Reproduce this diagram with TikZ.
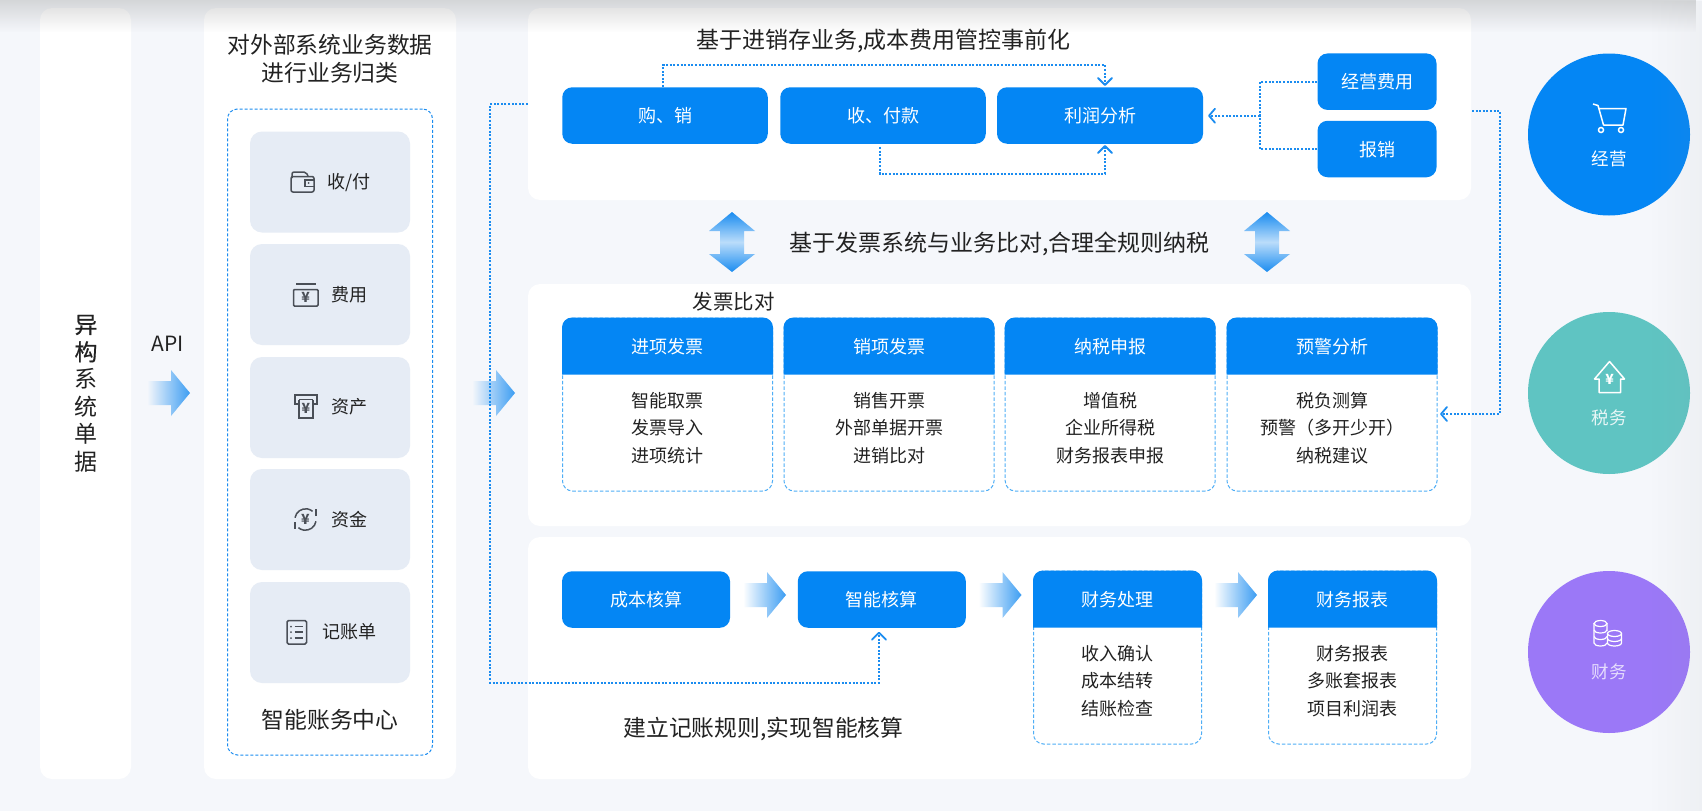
\documentclass[tikz,border=0pt]{standalone}
\usepackage{fontspec}
\usepackage{tikz}
\usetikzlibrary{positioning,arrows.meta,fadings,calc}
\setmainfont{Noto Sans CJK SC}
\newfontfamily\heavycjk[FakeBold=0.5]{Noto Sans CJK SC}

\definecolor{pagebg}{HTML}{F5F7FB}
\definecolor{tilebg}{HTML}{E6ECF5}
\definecolor{mainblue}{HTML}{0486F4}
\definecolor{linkblue}{HTML}{1A8CF0}
\definecolor{cardline}{HTML}{4FAEF6}
\definecolor{icongrey}{HTML}{4A4F57}
\definecolor{tealball}{HTML}{5FC4C2}
\definecolor{purpleball}{HTML}{9B78F7}
\definecolor{inktext}{HTML}{222222}

\tikzfading[name=fadedown, top color=transparent!65, bottom color=transparent!100]
\tikzfading[name=faderight, left color=transparent!100, right color=transparent!93]

\tikzset{
    panel/.style={fill=white, rounded corners=12},
    tile/.style={fill=tilebg, rounded corners=12, minimum width=160, minimum height=101, inner sep=0},
    bluebox/.style={fill=mainblue, text=white, rounded corners=10, inner sep=0, text height=16, text depth=2, font=\fontsize{18}{22}\selectfont},
    cardbody/.style={draw=cardline, line width=1, dash pattern=on 3.5 off 2, rounded corners=10, minimum height=173, inner sep=0},
    headtext/.style={text=white, inner sep=0, font=\fontsize{18}{22}\selectfont},
    cardtext/.style={text=inktext, inner sep=0, align=center, font=\fontsize{18}{27.5}\selectfont},
    titletext/.style={text=inktext, inner sep=0, align=center, font=\fontsize{23}{28}\selectfont},
    sidetext/.style={text=inktext, inner sep=0, align=center, font=\fontsize{23}{27.4}\selectfont},
    tiletext/.style={text=inktext, inner sep=0, font=\fontsize{18}{22}\selectfont},
    ball/.style={circle, minimum size=162, inner sep=0},
    balltext/.style={text=white, inner sep=0, font=\fontsize{17.5}{22}\selectfont},
    flow/.style={linkblue, line width=2, dash pattern=on 2 off 1.6},
    flowhead/.style={linkblue, line width=1.8, line cap=round, line join=round},
    icon/.style={icongrey, line width=1.5},
    yen/.style={inner sep=0, font=\fontsize{14}{14}\selectfont\bfseries},
    ballicon/.style={white, line width=1.5},
}

% header, dashed body and list of one card
\newcommand{\infocard}[6]{
    \node[cardbody, minimum width=#4] (#1) at (#2,#3+86.5) {};
    \fill[mainblue] ([yshift=-57]#1.north west) [rounded corners=10] -- (#1.north west) -- (#1.north east) [sharp corners] -- ([yshift=-57]#1.north east) -- cycle;
    \node[headtext] (#1head) at (#2,#3+29) {#5};
    \node[cardtext] (#1list) at (#2,#3+110) {#6};
}
% fading block arrow, tip at x,y
\newcommand{\blockarrow}[3]{
    \shade[left color=#3, right color=linkblue!85] (#1-43,#2-12) -- (#1-19,#2-12) -- (#1-19,#2-23) -- (#1,#2) -- (#1-19,#2+23) -- (#1-19,#2+12) -- (#1-43,#2+12) -- cycle;
}
\newcommand{\bothways}[1]{
    \shade[top color=linkblue, bottom color=linkblue, middle color=linkblue!30] (#1,212) -- (#1+23,231) -- (#1+12,231) -- (#1+12,254) -- (#1+23,254) -- (#1,272) -- (#1-23,254) -- (#1-12,254) -- (#1-12,231) -- (#1-23,231) -- cycle;
}

\begin{document}
\begin{tikzpicture}[x=1pt,y=-1pt]
    \useasboundingbox (0,0) rectangle (1702,811);
    \fill[pagebg] (0,0) rectangle (1702,811);

    % left columns
    \fill[panel] (40,8) rectangle (131,779);
    \fill[panel] (204,8) rectangle (456,779);
    \node[sidetext] (hetero) at (86,393.5) {{\heavycjk 异}\\{\heavycjk 构}\\系\\统\\单\\据};
    \node[inner sep=0, text=inktext, font=\fontsize{21}{24}\selectfont] (api) at (168,344) {API};
    \blockarrow{190}{393}{pagebg}
    \blockarrow{515}{393}{pagebg}

    \node[titletext, font=\fontsize{22.8}{28}\selectfont] (classify) at (330,59) {对外部系统业务数据\\进行业务归类};
    \node[draw=linkblue, line width=1, dash pattern=on 3 off 2, rounded corners=10, minimum width=205, minimum height=646, inner sep=0] (center) at (330,432) {};
    \node[tile] (tilepay) at (330,182) {};
    \node[tile] (tilefee) at (330,294.5) {};
    \node[tile] (tileasset) at (330,407.5) {};
    \node[tile] (tilefund) at (330,519.5) {};
    \node[tile] (tilebill) at (330,632.5) {};
    \node[tiletext] (paytxt) at (349,183) {收/付};
    \node[tiletext] (feetxt) at (349,294.5) {费用};
    \node[tiletext] (assettxt) at (349,407) {资产};
    \node[tiletext] (fundtxt) at (349,519.5) {资金};
    \node[tiletext] (billtxt) at (349.5,632) {记账单};
    \node[titletext, font=\fontsize{22.8}{28}\selectfont] (centertxt) at (330,720) {智能账务中心};

    % tile icons
    \draw[icon, rounded corners=2] (291,176.5) rectangle (314,192);
    \draw[icon, rounded corners=2] (292,178) -- (292,172) -- (306,172) -- (308,176);
    \draw[icon] (314,180) -- (305,180) -- (305,186.5) -- (314,186.5);
    \fill[icongrey] (308.5,183) circle (1);
    \draw[icon, rounded corners=1] (293.5,289.5) rectangle (318,306);
    \draw[icon] (296,284) -- (315.5,284);
    \node[yen, text=icongrey] (feeyen) at (305.7,297.5) {¥};
    \draw[icon] (299,404) -- (295,404) -- (295,395) -- (317,395) -- (317,404) -- (313,404);
    \draw[icon] (299,399.5) -- (313,399.5);
    \draw[icon] (299,399.5) -- (299,418) -- (313,418) -- (313,399.5);
    \node[yen, text=icongrey] (assetyen) at (306,408.5) {¥};
    \draw[icon] (295,517.7) arc (190:310:10.8);
    \draw[icon] (316,521.3) arc (10:130:10.8);
    \draw[icon] (295,522) -- (295,529) (316,516) -- (316,509);
    \node[yen, text=icongrey] (fundyen) at (305.5,519.5) {¥};
    \draw[icon, rounded corners=1.5] (287,620.5) rectangle (306.5,644);
    \foreach \yy in {626.5,632,638}{
        \draw[icon] (294.5,\yy) -- (303,\yy);
        \fill[icongrey] (291,\yy) circle (1);
    }

    % top panel
    \fill[panel] (528,8) rectangle (1471,200);
    \node[titletext] (toptitle) at (883.5,41) {基于进销存业务,成本费用管控事前化};
    \node[bluebox, minimum width=205.5, minimum height=56.5] (buysell) at (665,115.5) {购、销};
    \node[bluebox, minimum width=205.5, minimum height=56.5] (payrecv) at (883,115.5) {收、付款};
    \node[bluebox, minimum width=206, minimum height=56.5] (profit) at (1100,115.5) {利润分析};
    \node[bluebox, minimum width=119, minimum height=56.5] (opcost) at (1377,81.7) {经营费用};
    \node[bluebox, minimum width=119, minimum height=56.5] (reimb) at (1377,149) {报销};

    % between panels
    \bothways{732}
    \bothways{1267}
    \node[titletext] (midtitle) at (999.7,243.7) {基于发票系统与业务比对,合理全规则纳税};

    % middle panel
    \fill[panel] (528,284) rectangle (1471,526);
    \node[inner sep=0, text=inktext, font=\fontsize{20.5}{24}\selectfont] (invcheck) at (733.5,301.7) {发票比对};
    \infocard{inv}{667.5}{318}{210}{进项发票}{智能取票\\发票导入\\进项统计}
    \infocard{sale}{889}{318}{210}{销项发票}{销售开票\\外部单据开票\\进销比对}
    \infocard{decl}{1110.2}{318}{210}{纳税申报}{增值税\\企业所得税\\财务报表申报}
    \infocard{warn}{1332}{318}{210}{预警分析}{税负测算\\预警（多开少开）\\纳税建议}

    % bottom panel
    \fill[panel] (528,537) rectangle (1471,779);
    \node[bluebox, minimum width=168, minimum height=56.5] (costing) at (646,599.5) {成本核算};
    \node[bluebox, minimum width=168, minimum height=56.5] (smart) at (881.8,599.5) {智能核算};
    \infocard{proc}{1117.5}{571}{168}{财务处理}{收入确认\\成本结转\\结账检查}
    \infocard{report}{1352.5}{571}{168}{财务报表}{财务报表\\多账套报表\\项目利润表}
    \blockarrow{786}{595}{white}
    \blockarrow{1021.5}{595}{white}
    \blockarrow{1257}{595}{white}
    \node[titletext, font=\fontsize{22.8}{28}\selectfont] (bottitle) at (763.5,729) {建立记账规则,实现智能核算};

    % right balls
    \node[ball, fill=mainblue] (ballop) at (1609,134.5) {};
    \node[ball, fill=tealball] (balltax) at (1609,393) {};
    \node[ball, fill=purpleball] (ballfin) at (1609,652) {};
    \node[balltext] (optxt) at (1609,159) {经营};
    \node[balltext, text=white!85!tealball] (taxtxt) at (1609,418) {税务};
    \node[balltext, text=white!75!purpleball] (fintxt) at (1609,672) {财务};

    % ball icons
    \draw[ballicon, line join=round] (1593,104) -- (1598,105.5) -- (1603.5,125) -- (1623,125) -- (1626,108.5) -- (1599,108.5);
    \draw[ballicon] (1601,130) circle (2.5) (1621,130) circle (2.5);
    \draw[ballicon, line join=round] (1599,392.5) -- (1599,379) -- (1594.5,379) -- (1609.5,361.5) -- (1624.5,379) -- (1620.5,379) -- (1620.5,392.5) -- cycle;
    \node[yen, text=white] (houseyen) at (1609.5,379) {¥};
    \draw[ballicon, line width=1.2] (1600.5,623.5) ellipse (6.5 and 3);
    \draw[ballicon, line width=1.2] (1594,623.5) -- (1594,643) arc (180:0:6.5 and 3) (1607,623.5) -- (1607,631);
    \draw[ballicon, line width=1.2] (1594,630) arc (180:0:6.5 and 3) (1594,636.5) arc (180:0:6.5 and 3);
    \draw[ballicon, line width=1.2] (1614.5,633.5) ellipse (7 and 3);
    \draw[ballicon, line width=1.2] (1607.5,633.5) -- (1607.5,643) arc (180:0:7 and 3) -- (1621.5,633.5);
    \draw[ballicon, line width=1.2] (1607.5,638.5) arc (180:0:7 and 3);

    % dotted links
    \coordinate (topbend) at (1105,65);
    \coordinate (botbend) at (1105,174);
    \coordinate (feedbend) at (1260,115.7);
    \coordinate (rightout) at (1472,111);
    \coordinate (rightbend) at (1499.5,111);
    \coordinate (leftout) at (528,104);
    \coordinate (leftbend) at (490,104);
    \coordinate (leftfoot) at (879,682.7);
    \coordinate (smartin) at (879,632.7);
    \coordinate (warnin) at (1441,414);

    \draw[flow] ([xshift=-2]buysell.north) |- (topbend) -- ++(0,19);
    \draw[flowhead] (1098,78) -- (1105,85) -- (1112,78);
    \draw[flow] ([xshift=-3,yshift=-3]payrecv.south) -- ++(0,3) |- (botbend) -- ++(0,-27);
    \draw[flowhead] (1098,153) -- (1105,146) -- (1112,153);
    \draw[flow] (opcost.west) -| (feedbend);
    \draw[flow] (reimb.west) -| (feedbend);
    \draw[flow] (feedbend) -- ++(-50,0);
    \draw[flowhead] (1215,108.7) -- (1209,115.7) -- (1215,122.7);
    \draw[flow] (rightout) -- (rightbend) |- (warnin);
    \draw[flowhead] (1447,407) -- (1441,414) -- (1447,421);
    \draw[flow] (leftout) -- (leftbend) |- (leftfoot) -- (smartin);
    \draw[flowhead] (872,639.7) -- (879,632.7) -- (886,639.7);

    % shadow along the screenshot edges
    \fill[black!40, path fading=fadedown] (0,0) rectangle (1702,32);
    \fill[black!40, path fading=faderight] (1650,0) rectangle (1702,811);
\end{tikzpicture}
\end{document}
